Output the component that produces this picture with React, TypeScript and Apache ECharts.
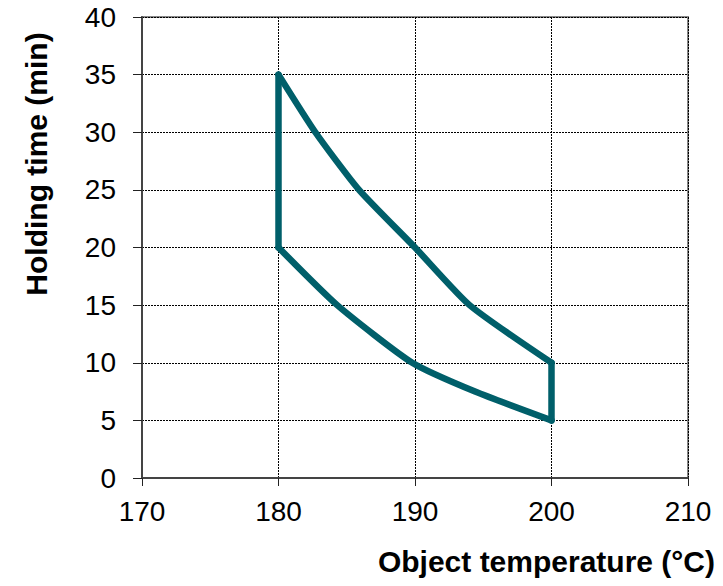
import React, { useEffect, useRef } from "react";
import * as echarts from "echarts";

const xTicks = [170, 180, 190, 200, 210];
const yTicks = [0, 5, 10, 15, 20, 25, 30, 35, 40];

// Upper boundary of the window (temperature °C, holding time min), read at grid crossings
const upperTemp = [180, 182.7, 185.9, 190, 194, 200];
const upperTime = [35, 30, 25, 20, 15, 10];
// Lower boundary
const lowerTemp = [180, 184.3, 189.8, 194.4, 200];
const lowerTime = [20, 15, 10, 7.5, 5];
// Vertical edges
const leftEdgeTemp = [180, 180];
const leftEdgeTime = [20, 35];
const rightEdgeTemp = [200, 200];
const rightEdgeTime = [5, 10];

const xTitle = "Object temperature (°C)";
const yTitle = "Holding time (min)";

const LINE = "#005f6a";
const FONT = "'Liberation Sans', Arial, sans-serif";

const zip = (a: number[], b: number[]) => a.map((v, i) => [v, b[i]]);

export default function App() {
  const ref = useRef<HTMLDivElement>(null);
  useEffect(() => {
    if (!ref.current) return;
    const chart = echarts.init(ref.current, undefined, { renderer: "svg" });
    const lineSeries = (name: string, data: number[][], smooth: number | boolean) => ({
      name,
      type: "line",
      data,
      smooth,
      showSymbol: false,
      symbol: "none",
      lineStyle: { color: LINE, width: 6.5, cap: "round", join: "round" },
      z: 5,
    });
    chart.setOption({
      animation: false,
      backgroundColor: "#ffffff",
      textStyle: { fontFamily: FONT },
      grid: {
        left: 142,
        top: 17,
        right: 35,
        bottom: 108,
        outerBoundsMode: "none",
        containLabel: false,
        show: true,
        borderColor: "#888888",
        borderWidth: 2,
        backgroundColor: "transparent",
      },
      xAxis: {
        type: "value",
        min: xTicks[0],
        max: xTicks[xTicks.length - 1],
        interval: 10,
        axisLine: { show: true, onZero: false, lineStyle: { color: "#444444", width: 2 } },
        axisTick: { show: true, inside: false, length: 8, lineStyle: { color: "#222222", width: 1 } },
        axisLabel: { color: "#000000", fontSize: 28, fontFamily: FONT, margin: 19 },
        splitLine: { show: true, lineStyle: { color: "#000000", width: 1, type: [2, 1] } },
      },
      yAxis: {
        type: "value",
        min: yTicks[0],
        max: yTicks[yTicks.length - 1],
        interval: 5,
        axisLine: { show: true, onZero: false, lineStyle: { color: "#444444", width: 2 } },
        axisTick: { show: true, inside: false, length: 9, lineStyle: { color: "#222222", width: 1 } },
        axisLabel: { color: "#000000", fontSize: 28, fontFamily: FONT, margin: 26 },
        splitLine: { show: true, lineStyle: { color: "#000000", width: 1, type: [2, 1] } },
      },
      graphic: [
        {
          type: "text",
          right: 8,
          top: 546,
          style: {
            text: xTitle,
            fill: "#000000",
            font: `bold 30px ${FONT}`,
          },
        },
        {
          type: "text",
          x: 36,
          y: 164,
          rotation: Math.PI / 2,
          style: {
            text: yTitle,
            fill: "#000000",
            font: `bold 30px ${FONT}`,
            align: "center",
            verticalAlign: "middle",
          },
        },
      ],
      series: [
        lineSeries("upper", zip(upperTemp, upperTime), 0.2),
        lineSeries("lower", zip(lowerTemp, lowerTime), 0.2),
        lineSeries("left", zip(leftEdgeTemp, leftEdgeTime), false),
        lineSeries("right", zip(rightEdgeTemp, rightEdgeTime), false),
      ],
    });
    return () => chart.dispose();
  }, []);
  return <div ref={ref} style={{ width: 723, height: 586, position: "absolute", left: 0, top: 0 }} />;
}
